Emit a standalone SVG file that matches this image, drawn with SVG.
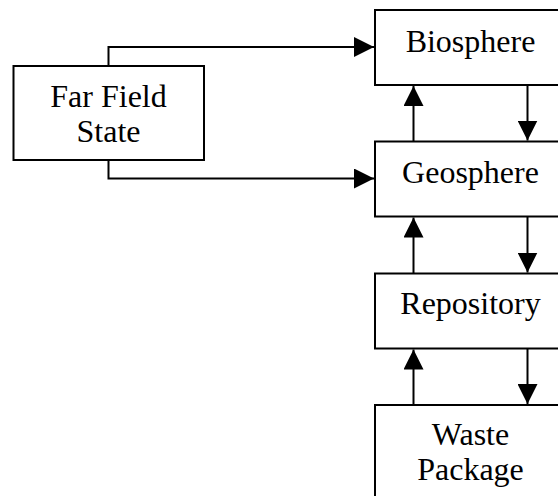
<svg xmlns="http://www.w3.org/2000/svg" width="558" height="496" viewBox="0 0 558 496">
<style>
.box{fill:#fff;stroke:#000;stroke-width:2}
.t{font-family:"Liberation Serif","Times New Roman",serif;font-size:32px;text-anchor:middle;fill:#000}
.c{fill:none;stroke:#000;stroke-width:2}
</style>
<defs>
<marker id="ah" markerUnits="userSpaceOnUse" markerWidth="20" markerHeight="20" viewBox="0 0 20 20" refX="20" refY="10" orient="auto">
<path d="M0,0 L20,10 L0,20 Z" fill="#000"/>
</marker>
</defs>
<rect width="558" height="496" fill="#fff"/>
<g id="far-field">
<rect class="box" x="13.5" y="66" width="190.5" height="94"/>
<text class="t" x="108.5" y="106.5">Far Field</text>
<text class="t" x="108.5" y="141.5">State</text>
</g>
<g id="biosphere">
<rect class="box" x="375" y="10" width="191" height="75"/>
<text class="t" x="470.5" y="52">Biosphere</text>
</g>
<g id="geosphere">
<rect class="box" x="375" y="141.5" width="191" height="75"/>
<text class="t" x="470.5" y="182.5">Geosphere</text>
</g>
<g id="repository">
<rect class="box" x="375" y="273.5" width="191" height="75"/>
<text class="t" x="470.5" y="314">Repository</text>
</g>
<g id="waste-package">
<rect class="box" x="375" y="405" width="191" height="100"/>
<text class="t" x="470.5" y="445">Waste</text>
<text class="t" x="470.5" y="480">Package</text>
</g>
<g id="connectors">
<path class="c" d="M108.5,66 V47 H374" marker-end="url(#ah)"/>
<path class="c" d="M108.5,160 V178.5 H374" marker-end="url(#ah)"/>
<path class="c" d="M413.5,141.5 V86" marker-end="url(#ah)"/>
<path class="c" d="M527.5,85 V140.5" marker-end="url(#ah)"/>
<path class="c" d="M413.5,273.5 V217.5" marker-end="url(#ah)"/>
<path class="c" d="M527.5,216.5 V272.5" marker-end="url(#ah)"/>
<path class="c" d="M413.5,405 V349.5" marker-end="url(#ah)"/>
<path class="c" d="M527.5,348.5 V404" marker-end="url(#ah)"/>
</g>
</svg>
